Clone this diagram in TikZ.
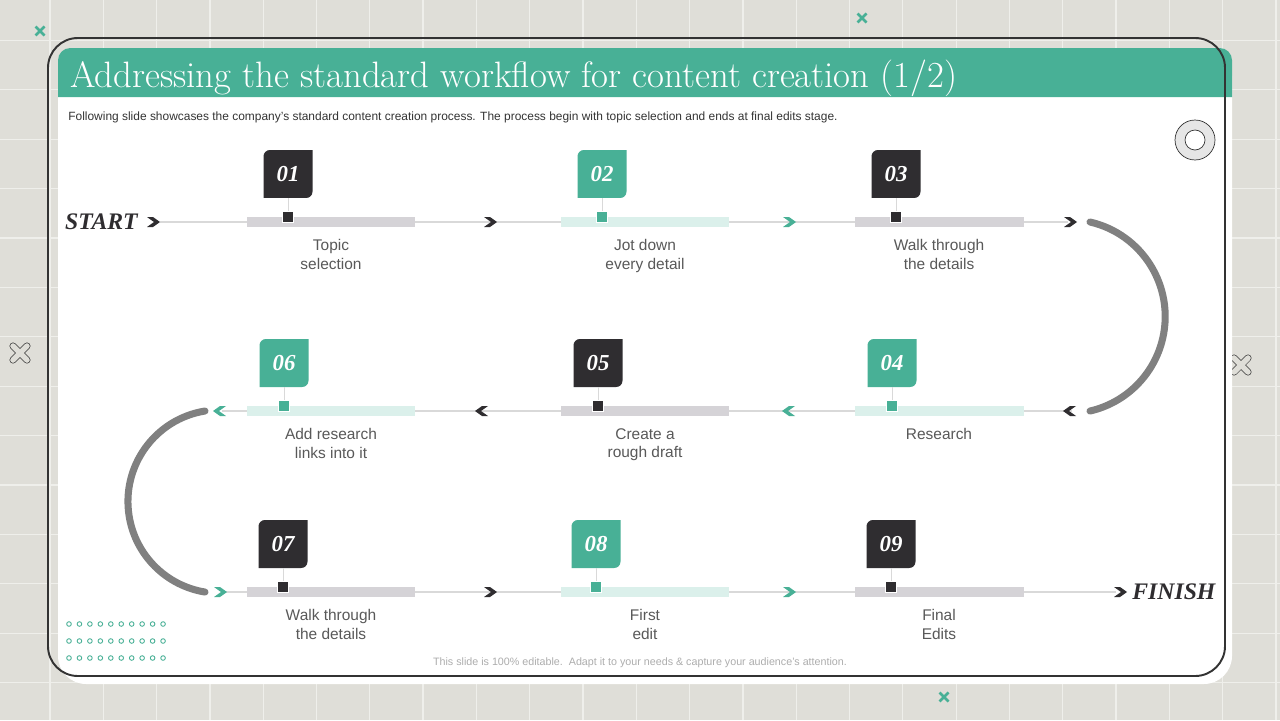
\documentclass[tikz,border=0pt]{standalone}
\usepackage{fontspec}
\newfontfamily\arialfont{Liberation Sans}
\newfontfamily\timesfont{Liberation Serif}
\usetikzlibrary{calc}
\definecolor{bggray}{HTML}{DFDED8}
\definecolor{gridwhite}{HTML}{EFEFEB}
\definecolor{stepteal}{HTML}{48B096}
\definecolor{stepdark}{HTML}{2F2D30}
\definecolor{bargray}{HTML}{D5D3D7}
\definecolor{barteal}{HTML}{DBF0EB}
\definecolor{linegray}{HTML}{D9D9D9}
\definecolor{arcgray}{HTML}{808080}
\definecolor{txtgray}{HTML}{595959}
\definecolor{framedark}{HTML}{333333}
\definecolor{ringgray}{HTML}{E6E6E6}

\tikzset{
  gridline/.style={gridwhite, line width=0.7pt},
  rowline/.style={linegray, line width=0.6pt},
  bendline/.style={arcgray, line width=4pt, line cap=round},
  stepbar/.style={minimum width=3.38cm, minimum height=0.2cm, inner sep=0pt},
  numbox/.style={minimum width=0.98cm, minimum height=0.96cm, inner sep=0pt, fill=white, text=white,
    font=\timesfont\bfseries\itshape\fontsize{13}{15}\selectfont,
    path picture={\fill[#1] ([yshift=-3.6pt]path picture bounding box.north west)
      arc[start angle=180, end angle=90, radius=3.6pt] -- (path picture bounding box.north east)
      -- ([yshift=3.6pt]path picture bounding box.south east)
      arc[start angle=0, end angle=-90, radius=3.6pt] -- (path picture bounding box.south west) -- cycle;}},
  stepmark/.style={minimum size=0.22cm, inner sep=0pt, draw=white, line width=0.5pt},
  stem/.style={linegray, line width=0.5pt},
  steplabel/.style={font=\arialfont\fontsize{8.8}{10.6}\selectfont, text=txtgray, align=center, inner sep=0pt},
  endtext/.style={font=\timesfont\bfseries\itshape\fontsize{13.5}{15}\selectfont, text=stepdark, inner sep=0pt},
  chev/.pic={\fill[pic actions] (-6,-5) -- (0,-5) -- (7,0) -- (0,5) -- (-6,5) -- (1,0) -- cycle;}
}

\begin{document}
\begin{tikzpicture}[x=0.02cm, y=-0.02cm]
\useasboundingbox (0,0) rectangle (1280,720);
\fill[bggray] (0,0) rectangle (1280,720);
\foreach \k in {-1,...,23} \draw[gridline] (50+53.3*\k,0) -- (50+53.3*\k,720);
\foreach \k in {0,...,15} \draw[gridline] (0,-9+49.4*\k) -- (1280,-9+49.4*\k);
\foreach \px/\py in {40/31, 862/18, 944/697}
  \draw[stepteal, line width=1.5pt] (\px,\py) ++(-4.5,-4.5) -- ++(9,9) (\px,\py) ++(-4.5,4.5) -- ++(9,-9);
\foreach \px/\py in {20/353, 1241/365} {
  \draw[framedark, line width=4pt, line cap=round] (\px,\py) ++(-7,-7) -- ++(14,14) (\px,\py) ++(-7,7) -- ++(14,-14);
  \draw[bggray, line width=3.2pt, line cap=round] (\px,\py) ++(-7,-7) -- ++(14,14) (\px,\py) ++(-7,7) -- ++(14,-14);
}

\fill[white, rounded corners=16pt] (58,48) rectangle (1232,684);
\fill[stepteal, rounded corners=7pt] (58,97) -- (58,48) -- (1232,48) -- (1232,97);
\draw[framedark, line width=1.1pt, rounded corners=17pt] (48,38) rectangle (1225,676);

\node[anchor=base west, inner sep=0pt, text=white, font=\fontsize{20.9}{24}\selectfont] (title) at (70,87)
  {Addressing the standard workflow for content creation (1/2)};
\node[anchor=base west, inner sep=0pt, text=framedark, font=\arialfont\fontsize{6.8}{8}\selectfont] (subtitle) at (68,120)
  {Following slide showcases the company’s standard content creation process. The process begin with topic selection and ends at final edits stage.};
\node[anchor=base, inner sep=0pt, text=black!32, font=\arialfont\fontsize{6.1}{7}\selectfont] (footer) at (640,665)
  {This slide is 100\% editable.\ \ Adapt it to your needs \& capture your audience’s attention.};

\node[circle, draw=framedark, fill=ringgray, line width=0.4pt, minimum size=0.8cm] (ring) at (1195,140) {};
\node[circle, draw=framedark, fill=white, line width=0.4pt, minimum size=0.4cm] (hole) at (ring) {};

\foreach \i in {0,...,9} \foreach \j in {0,1,2}
  \draw[stepteal, line width=0.5pt] (69+10.45*\i,624+17*\j) circle (2.3);

\coordinate (r1w) at (160,222); \coordinate (r1e) at (1068,222);
\coordinate (r2e) at (1072,411); \coordinate (r2w) at (222,411);
\coordinate (r3w) at (222,592); \coordinate (r3e) at (1116,592);
\draw[rowline] (r1w) -- (r1e);
\draw[rowline] (r2e) -- (r2w);
\draw[rowline] (r3w) -- (r3e);

\coordinate (bendR) at (1090,222);
\coordinate (bendL) at (205,411);
\draw[bendline] (bendR) arc[start angle=-77, end angle=77, radius=97];
\draw[bendline] (bendL) arc[start angle=260.8, end angle=99.2, radius=91.7];

\node[endtext, anchor=east] (start) at (138,222) {START};
\node[endtext, anchor=west] (finish) at (1132,592) {FINISH};

\foreach \px/\py/\c in {153/222/stepdark, 490/222/stepdark, 789/222/stepteal, 1070/222/stepdark,
    220/592/stepteal, 490/592/stepdark, 789/592/stepteal, 1120/592/stepdark}
  \pic[fill=\c] at (\px,\py) {chev};
\foreach \px/\py/\c in {1070/411/stepdark, 789/411/stepteal, 482/411/stepdark, 220/411/stepteal}
  \pic[fill=\c, xscale=-1] at (\px,\py) {chev};

\foreach \n/\x/\bx/\y/\c/\b/\lbl in {
    01/288/331/222/stepdark/bargray/{Topic\\selection},
    02/602/645/222/stepteal/barteal/{Jot down\\every detail},
    03/896/939/222/stepdark/bargray/{Walk through\\the details},
    04/892/939/411/stepteal/barteal/{Research},
    05/598/645/411/stepdark/bargray/{Create a\\rough draft},
    06/284/331/411/stepteal/barteal/{Add research\\links into it},
    07/283/331/592/stepdark/bargray/{Walk through\\the details},
    08/596/645/592/stepteal/barteal/{First\\edit},
    09/891/939/592/stepdark/bargray/{Final\\Edits}} {
  \node[stepbar, fill=\b] (bar\n) at (\bx,\y) {};
  \node[numbox=\c] (box\n) at (\x,\y-48) {\n};
  \node[stepmark, fill=\c] (mk\n) at (\x,\y-5) {};
  \draw[stem] (box\n) -- (mk\n);
  \node[steplabel, anchor=north] (lbl\n) at (\bx,\y+17) {\lbl};
}
\end{tikzpicture}
\end{document}
